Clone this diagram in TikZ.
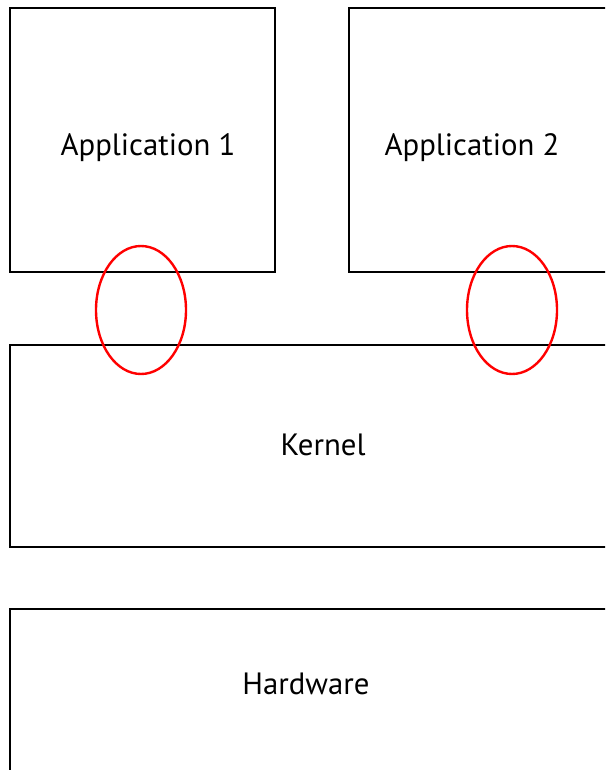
\documentclass[tikz,border=0pt]{standalone}
\usepackage{fontspec}
\setmainfont{PT Sans}
\begin{document}
\begin{tikzpicture}[x=1pt,y=-1pt,
  box/.style={draw=black,line width=2.4pt,fill=none},
  lbl/.style={font=\fontsize{30.8}{36}\selectfont,inner sep=0pt},
  ring/.style={draw=red,line width=2.4pt}]
\useasboundingbox (0,0) rectangle (605,770);
\clip (0,0) rectangle (605,770);
\draw[box] (10,8) rectangle (275,272);
\draw[box] (349,8) rectangle (640,272);
\draw[box] (10,345) rectangle (640,547);
\draw[box] (10,609) rectangle (640,800);
\node[lbl] (a1) at (148,148) {Application 1};
\node[lbl] (a2) at (472,148) {Application 2};
\node[lbl] (k) at (323,445) {Kernel};
\node[lbl] (h) at (306,684) {Hardware};
\draw[ring] (141,310) ellipse [x radius=45,y radius=64];
\draw[ring] (512,310) ellipse [x radius=45,y radius=64];
\end{tikzpicture}
\end{document}
